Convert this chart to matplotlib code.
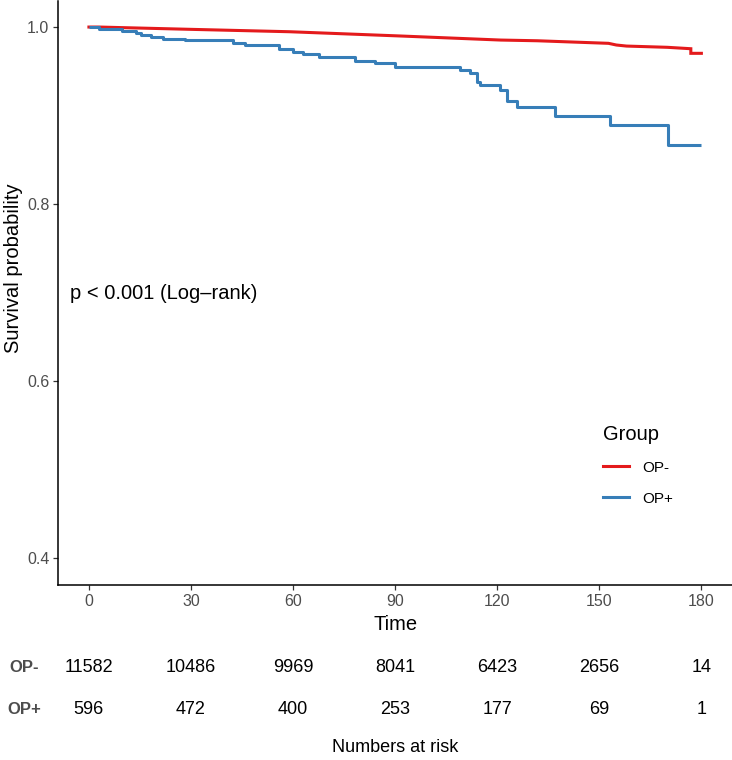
import matplotlib
matplotlib.use("Agg")
import matplotlib.pyplot as plt
from matplotlib.lines import Line2D

plt.rcParams['font.family'] = ['Liberation Sans', 'DejaVu Sans']

# ---- data ----
groups = ["OP-", "OP+"]
colors = ["#E41A1C", "#377EB8"]

# OP- (red) survival curve: very many tiny steps, read as points along the line
red_t = [0, 3, 30, 59, 91.5, 121, 131.8, 152.7, 155, 158, 170, 176.9, 176.9, 180]
red_s = [1.0, 1.0, 0.9974, 0.9947, 0.9899, 0.9853, 0.9845, 0.9816, 0.9797, 0.9785,
         0.9771, 0.9755, 0.9703, 0.9703]

# OP+ (blue) survival curve: step times and survival values
blue_t = [0, 2.9, 9.8, 13.9, 15.4, 18.3, 21.9, 28.1, 42.2, 45.8, 55.9, 60.0, 63.0,
          67.7, 78.2, 84.1, 90.0, 109.1, 112.1, 114.1, 115.0, 120.9, 122.9, 125.8,
          137.1, 153.1, 170.2, 180]
blue_s = [1.0, 0.9977, 0.9958, 0.9936, 0.9913, 0.9890, 0.9868, 0.9853, 0.9823, 0.9797,
          0.9748, 0.9718, 0.9695, 0.9665, 0.9620, 0.9590, 0.9552, 0.9514, 0.9484, 0.9382,
          0.9345, 0.9288, 0.9167, 0.9100, 0.8998, 0.8893, 0.8667, 0.8667]

risk_times = [0, 30, 60, 90, 120, 150, 180]
risk_opm = [11582, 10486, 9969, 8041, 6423, 2656, 14]
risk_opp = [596, 472, 400, 253, 177, 69, 1]

x_ticks = [0, 30, 60, 90, 120, 150, 180]
y_ticks = [0.4, 0.6, 0.8, 1.0]
y_ticklabels = ["0.4", "0.6", "0.8", "1.0"]
pval_text = "p < 0.001 (Log\u2013rank)"

W, H = 732, 760
fig = plt.figure(figsize=(W / 100, H / 100), dpi=100)

# ---- main KM panel ----
ax = fig.add_axes([58.3 / W, (H - 584.5) / H, (W - 58.3) / W, 584.0 / H])
ax.plot(red_t, red_s, color=colors[0], lw=2.2, solid_joinstyle="miter")
ax.step(blue_t, blue_s, where="post", color=colors[1], lw=2.2, solid_capstyle="butt")
ax.set_xlim(-9, 189)
ax.set_ylim(0.37, 1.03)
ax.set_xticks(x_ticks)
ax.set_xticklabels([str(v) for v in x_ticks])
ax.set_yticks(y_ticks)
ax.set_yticklabels(y_ticklabels)
for s in ["top", "right"]:
    ax.spines[s].set_visible(False)
for s in ["left", "bottom"]:
    ax.spines[s].set_linewidth(1.1)
    ax.spines[s].set_color("black")
ax.tick_params(axis="both", length=3.5, width=0.9, color="#333333",
               labelsize=11.5, labelcolor="#4D4D4D", pad=3)
ax.set_xlabel("Time", fontsize=14.5, labelpad=5)
ax.set_ylabel("Survival probability", fontsize=14.5)
ax.yaxis.set_label_coords(-0.052, 0.542)

ax.text(-5.7, 0.699, pval_text, fontsize=14.5, ha="left", va="center")

handles = [Line2D([], [], color=c, lw=2.2) for c in colors]
leg = ax.legend(handles, groups, title="Group", loc="upper left",
                bbox_to_anchor=(603 / W, (H - 425) / H), bbox_transform=fig.transFigure,
                frameon=False, fontsize=11, title_fontsize=14.5, borderpad=0,
                borderaxespad=0, handlelength=1.7, handletextpad=0.85,
                labelspacing=1.1, alignment="left")

# ---- numbers at risk table ----
rax = fig.add_axes([58.3 / W, (H - 730) / H, (W - 58.3) / W, 90 / H])
rax.set_xlim(-9, 189)
rax.set_ylim(0, 90)
rax.axis("off")
row_y = [90 - (668 - 640), 90 - (710 - 640)]
for vals, yy in zip([risk_opm, risk_opp], row_y):
    for t, v in zip(risk_times, vals):
        rax.text(t, yy, str(v), ha="center", va="center", fontsize=13)
for g, yy in zip(groups, row_y):
    fig.text(24 / W, (H - 640 - (90 - yy)) / H, g, ha="center", va="center",
             fontsize=12, fontweight="bold", color="#4D4D4D")
fig.text(395 / W, (H - 748) / H, "Numbers at risk", ha="center", va="center", fontsize=13)

fig.savefig("out.png", dpi=100)
